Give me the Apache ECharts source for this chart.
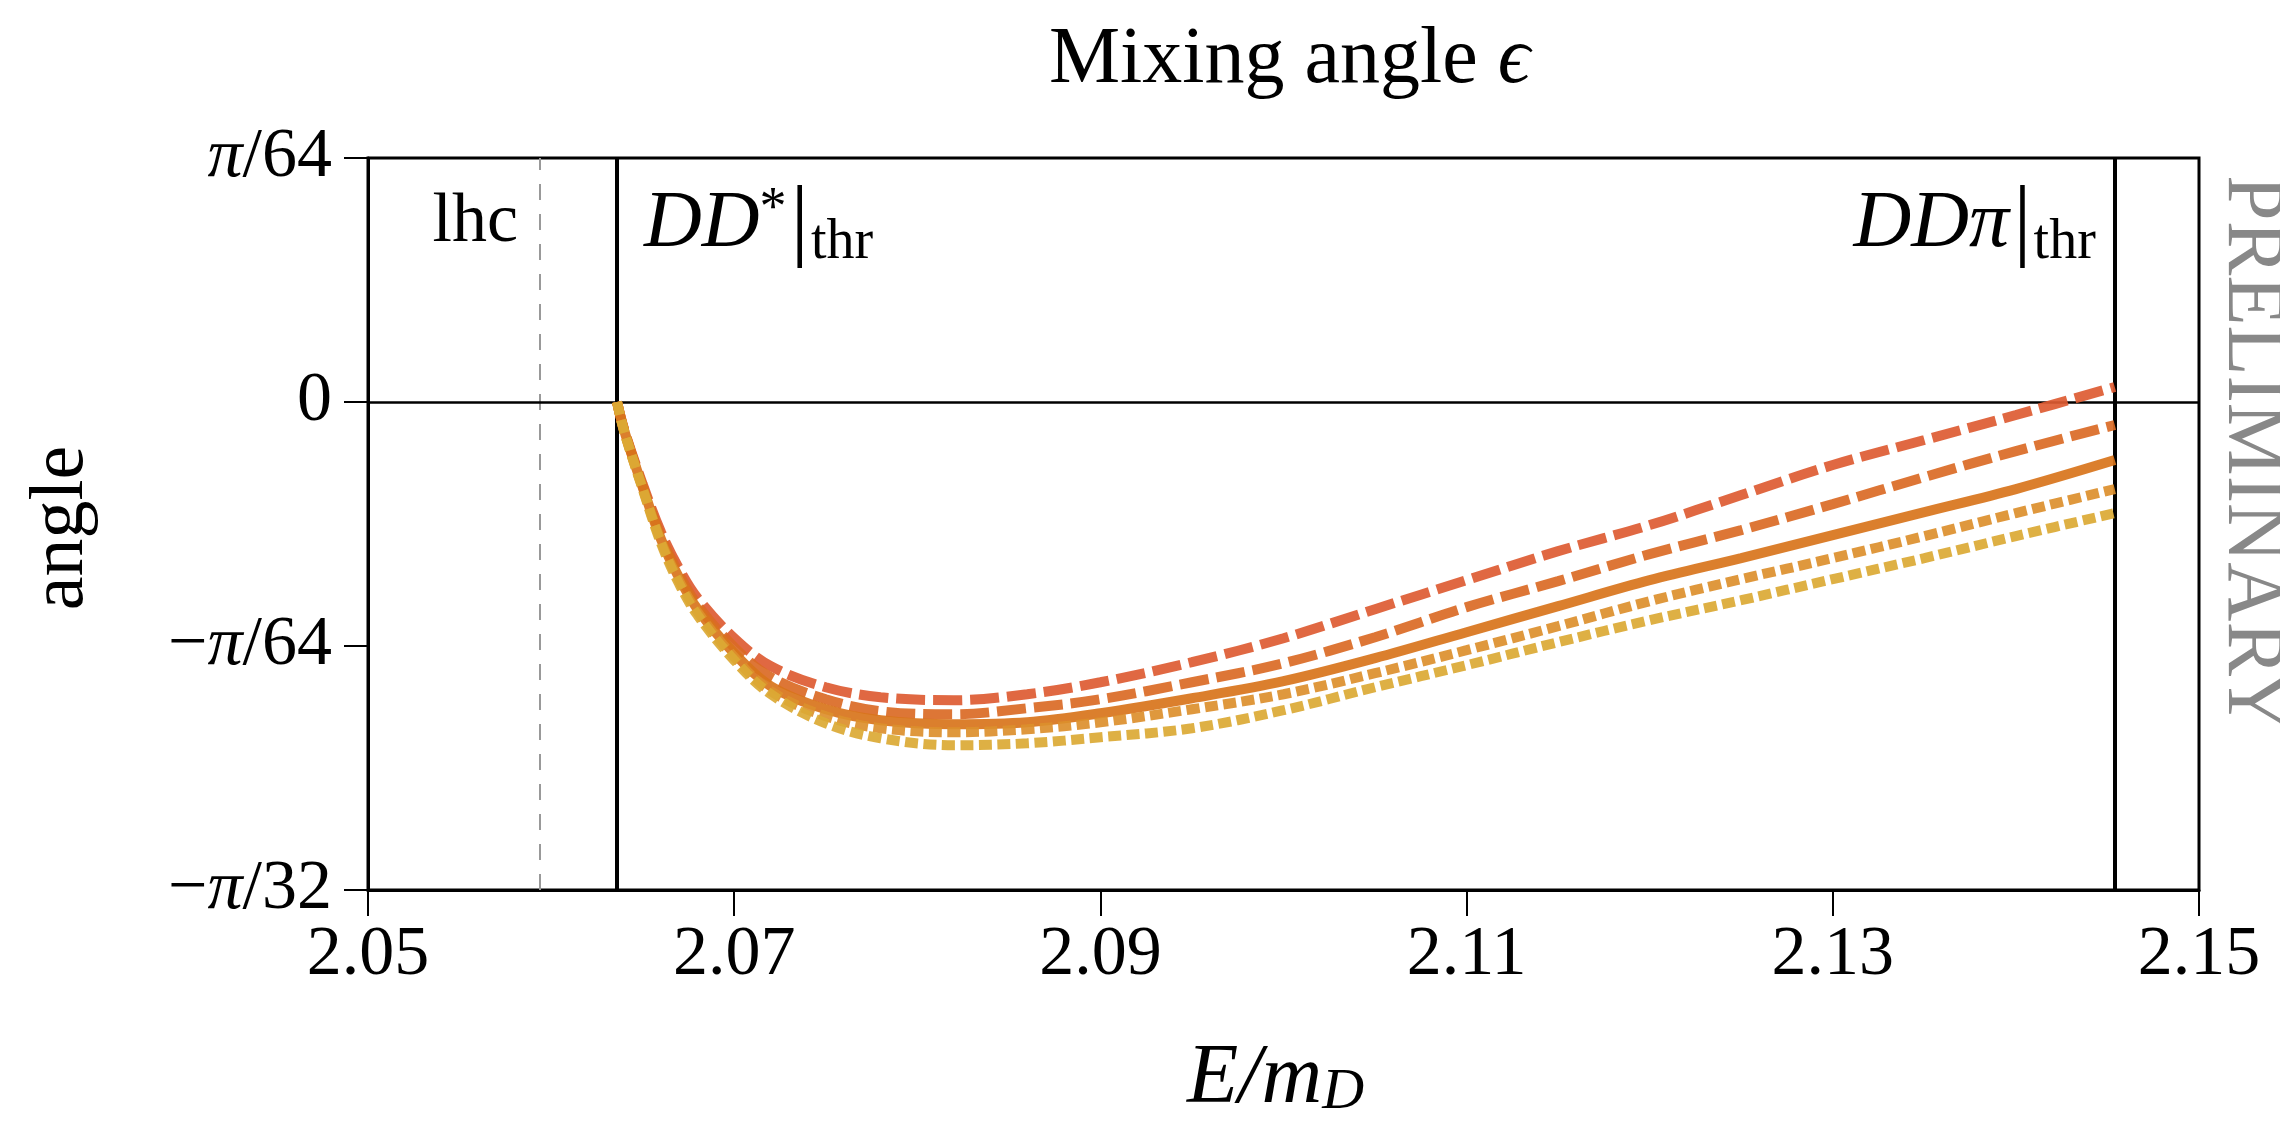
<!DOCTYPE html>
<html><head><meta charset="utf-8">
<script src="https://cdn.jsdelivr.net/npm/echarts@6/dist/echarts.min.js"></script>
<style>html,body{margin:0;padding:0;background:#fff}#c{width:2280px;height:1125px}</style>
</head><body><div id="c"></div>
<script>
// ---- data (E/m_D, mixing angle in radians) ----
const energy = [2.0636, 2.064, 2.065, 2.066, 2.067, 2.068, 2.070, 2.072, 2.075, 2.078, 2.082, 2.086,
                2.090, 2.095, 2.100, 2.105, 2.110, 2.115, 2.120, 2.125, 2.130, 2.135, 2.140, 2.1454];
const angleA = [0, -0.00564, -0.01651, -0.02617, -0.03362, -0.03946, -0.04752, -0.05315, -0.05738, -0.05940, -0.06000, -0.05879,
                -0.05638, -0.05235, -0.04752, -0.04168, -0.03584, -0.03000, -0.02476, -0.01872, -0.01268, -0.00765, -0.00262, 0.00302];
const angleB = [0, -0.00584, -0.01691, -0.02698, -0.03463, -0.04087, -0.04933, -0.05537, -0.05980, -0.06221, -0.06282, -0.06161,
                -0.05980, -0.05638, -0.05255, -0.04731, -0.04127, -0.03604, -0.03060, -0.02577, -0.02054, -0.01510, -0.00987, -0.00463];
const angleC = [0, -0.00584, -0.01711, -0.02758, -0.03544, -0.04168, -0.05054, -0.05718, -0.06181, -0.06403, -0.06483, -0.06443,
                -0.06262, -0.05960, -0.05617, -0.05154, -0.04631, -0.04107, -0.03584, -0.03141, -0.02678, -0.02215, -0.01752, -0.01168];
const angleD = [0, -0.00604, -0.01732, -0.02799, -0.03604, -0.04228, -0.05134, -0.05819, -0.06322, -0.06564, -0.06644, -0.06584,
                -0.06443, -0.06181, -0.05879, -0.05456, -0.04993, -0.04510, -0.04007, -0.03564, -0.03141, -0.02698, -0.02235, -0.01752];
const angleE = [0, -0.00604, -0.01752, -0.02839, -0.03664, -0.04289, -0.05195, -0.05879, -0.06463, -0.06765, -0.06906, -0.06866,
                -0.06745, -0.06564, -0.06201, -0.05738, -0.05295, -0.04832, -0.04389, -0.03987, -0.03564, -0.03141, -0.02698, -0.02235];
const xTickValues = [2.05, 2.07, 2.09, 2.11, 2.13, 2.15];
const yTickValues = [-Math.PI / 32, -Math.PI / 64, 0, Math.PI / 64];
const yTickLabels = ['−π/32', '−π/64', '0', 'π/64'];
const lhcPos = 2.0594;
const ddStarThr = 2.0636;
const ddPiThr = 2.1454;

// ---- chart ----
const FONT = "'Liberation Serif', 'DejaVu Serif', serif";
const chart = echarts.init(document.getElementById('c'), null, {renderer: 'canvas', width: 2280, height: 1125});
const curves = [angleA, angleB, angleC, angleD, angleE];
const curveStyles = [
  {color: '#dd5b32', type: [29, 8]},
  {color: '#da6a25', type: [29, 8]},
  {color: '#d8741b', type: 'solid'},
  {color: '#dc8f2c', type: [13, 5.5]},
  {color: '#dba934', type: [13, 5.5]}
];
const series = curves.map((ys, k) => ({
  type: 'line',
  name: 'curve ' + (k + 1),
  data: energy.map((x, i) => [x, ys[i]]),
  showSymbol: false,
  smooth: 0.35,
  z: 3,
  lineStyle: {color: curveStyles[k].color, width: 10, type: curveStyles[k].type, cap: 'butt', opacity: 0.92},
  silent: true
}));
series[0].markLine = {
  symbol: ['none', 'none'], silent: true, animation: false, z: 1, precision: 8,
  label: {show: false},
  data: [
    {xAxis: lhcPos, lineStyle: {color: '#999', width: 2, type: [16, 14]}},
    {xAxis: ddStarThr, lineStyle: {color: '#000', width: 4, type: 'solid'}},
    {xAxis: ddPiThr, lineStyle: {color: '#000', width: 4, type: 'solid'}},
    {yAxis: 0, lineStyle: {color: '#000', width: 2.5, type: 'solid'}}
  ]
};

chart.setOption({
  animation: false,
  backgroundColor: '#fff',
  grid: {left: 368, right: 81, top: 158, bottom: 235, show: true, borderColor: '#000', borderWidth: 3,
         containLabel: false, outerBoundsMode: 'none'},
  xAxis: {
    type: 'value', min: 2.05, max: 2.15,
    axisLine: {show: true, onZero: false, lineStyle: {color: '#000', width: 3}},
    axisTick: {show: true, length: 26, lineStyle: {color: '#000', width: 2}, customValues: xTickValues},
    axisLabel: {show: true, margin: 31, color: '#000', fontFamily: FONT, fontSize: 70,
                customValues: xTickValues, formatter: v => v.toFixed(2)},
    splitLine: {show: false}
  },
  yAxis: {
    type: 'value', min: -Math.PI / 32, max: Math.PI / 64, interval: Math.PI / 64,
    axisLine: {show: true, onZero: false, lineStyle: {color: '#000', width: 3}},
    axisTick: {show: true, length: 24, lineStyle: {color: '#000', width: 2}},
    axisLabel: {
      show: true, margin: 36, color: '#000', fontFamily: FONT, fontSize: 70,
      formatter: v => {
        const i = yTickValues.findIndex(t => Math.abs(t - v) < 1e-6);
        return i < 0 ? '' : yTickLabels[i].replace('π', '{it|π}');
      },
      rich: {it: {fontStyle: 'italic', fontFamily: FONT, fontSize: 70, color: '#000'}}
    },
    splitLine: {show: false}
  },
  series: series
});

// ---- annotations ----
const topPx = chart.convertToPixel({gridIndex: 0}, [2.05, Math.PI / 64])[1];
const lhcPx = chart.convertToPixel({gridIndex: 0}, [lhcPos, 0])[0];
const ddsPx = chart.convertToPixel({gridIndex: 0}, [ddStarThr, 0])[0];
const ddpPx = chart.convertToPixel({gridIndex: 0}, [ddPiThr, 0])[0];
const gridL = chart.convertToPixel({gridIndex: 0}, [2.05, 0])[0];
const gridR = chart.convertToPixel({gridIndex: 0}, [2.15, 0])[0];
const labelY = topPx + 67;
const thrRich = {
  it: {fontStyle: 'italic', fontFamily: FONT, fontSize: 80, fill: '#000'},
  sup: {fontFamily: FONT, fontSize: 54, fill: '#000', verticalAlign: 'top', padding: [4, 0, 0, 0]},
  bar: {fontFamily: FONT, fontSize: 92, fill: '#000', padding: [0, 2, 0, 4]},
  sub: {fontFamily: FONT, fontSize: 56, fill: '#000', verticalAlign: 'bottom'}
};
chart.setOption({
  graphic: [
    {type: 'text', x: (gridL + gridR) / 2 + 6, y: 61, silent: true,
     style: {text: 'Mixing angle {it|ϵ}', font: '80px ' + FONT, fill: '#000', align: 'center', verticalAlign: 'middle',
             rich: {it: {fontStyle: 'italic', fontFamily: FONT, fontSize: 80, fill: '#000'}}}},
    {type: 'text', x: (gridL + gridR) / 2 - 8, y: 1080, silent: true,
     style: {text: '{it|E/m}{sub|D}', font: '84px ' + FONT, fill: '#000', align: 'center', verticalAlign: 'middle',
             rich: {it: {fontStyle: 'italic', fontFamily: FONT, fontSize: 84, fill: '#000'},
                    sub: {fontStyle: 'italic', fontFamily: FONT, fontSize: 58, fill: '#000', verticalAlign: 'bottom', padding: [0, 0, 0, 0]}}}},
    {type: 'text', x: 62, y: 528, rotation: Math.PI / 2, silent: true,
     style: {text: 'angle', font: '76px ' + FONT, fill: '#000', align: 'center', verticalAlign: 'middle'}},
    {type: 'text', x: 2251, y: 453, rotation: -Math.PI / 2, silent: true,
     style: {text: 'PRELIMINARY', font: '82px ' + FONT, fill: '#888', align: 'center', verticalAlign: 'middle'}},
    {type: 'text', x: lhcPx - 22, y: labelY - 2, silent: true,
     style: {text: 'lhc', font: '70px ' + FONT, fill: '#000', align: 'right', verticalAlign: 'middle'}},
    {type: 'text', x: ddsPx + 27, y: labelY, silent: true,
     style: {text: '{it|DD}{sup|*}{bar||}{sub|thr}', fill: '#000', align: 'left', verticalAlign: 'middle', rich: thrRich}},
    {type: 'text', x: ddpPx - 19, y: labelY, silent: true,
     style: {text: '{it|DDπ}{bar||}{sub|thr}', fill: '#000', align: 'right', verticalAlign: 'middle', rich: thrRich}}
  ]
});
</script></body></html>
